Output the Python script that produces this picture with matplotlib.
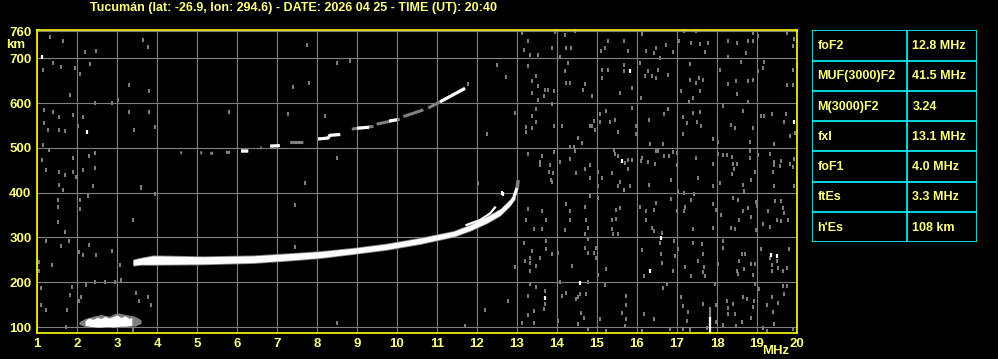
import numpy as np
import matplotlib
matplotlib.use("Agg")
import matplotlib.pyplot as plt

# ionogram header / parameters
title = "Tucumán (lat: -26.9, lon: 294.6) - DATE: 2026 04 25 - TIME (UT): 20:40"
param_names = ["foF2", "MUF(3000)F2", "M(3000)F2", "fxI", "foF1", "ftEs", "h'Es"]
param_values = ["12.8 MHz", "41.5 MHz", "3.24", "13.1 MHz", "4.0 MHz", "3.3 MHz", "108 km"]

freq_ticks = list(range(1, 21))
height_ticks = [100, 200, 300, 400, 500, 600, 700, 760]

# F-layer o-trace, lower / upper edge of echo (km)
fo_f = [3.4, 3.6, 3.9, 5.16, 6.41, 7.24, 8.08, 8.91, 9.74, 10.58, 11.41, 11.83, 12.24, 12.58, 12.83, 12.95]
fo_lo = [238, 240, 240, 241, 244, 249, 255, 264, 273.5, 286.5, 302.5, 316, 332.5, 350, 372, 387]
fo_hi = [250, 254, 259, 257, 259, 263.5, 268.5, 276, 285.5, 298.5, 313.5, 328, 346, 363, 385, 402]
cusp_f = [12.93, 13.0, 13.03]
cusp_h = [392, 410, 428]

# x-trace
fx_f = [11.74, 12.08, 12.33, 12.45]
fx_h = [328, 339, 354, 367]

# second hop (gaps as nan)
nan = np.nan
hop2_f = [4.58, 4.63, nan, 5.08, 5.13, nan, 5.33, 5.4, nan, 5.72, 5.83, nan, 6.1, 6.28, nan,
          6.58, 6.62, nan, 6.83, 7.07, nan, 7.33, 7.66, nan, 8.03, 8.28, 8.32, 8.58, nan,
          8.87, 9.41, nan, 9.49, 10.07, nan, 10.16, 10.66, nan, 10.78, 11.08, 11.7]
hop2_h = [489, 489, nan, 489, 489, nan, 488, 488, nan, 490, 490, nan, 493, 493, nan,
          500, 500, nan, 504, 505, nan, 512, 512, nan, 520, 522, 528, 530, nan,
          542, 548, nan, 553, 564, nan, 570, 585, nan, 589, 603, 633]
hop2w_f = [6.1, 6.28, nan, 6.83, 7.07, nan, 8.03, 8.28, 8.32, 8.58, nan, 9.0, 9.3, nan, 9.8, 10.0, nan, 11.08, 11.7]
hop2w_h = [493, 493, nan, 504, 505, nan, 520, 522, 528, 530, nan, 544, 546, nan, 560, 563, nan, 603, 633]

# sporadic E
es_f = [2.2, 2.3, 2.4, 2.5, 2.6, 2.7, 2.8, 2.9, 3.0, 3.1, 3.2, 3.3, 3.37]
es_lo = [104, 102, 101, 100, 100, 101, 101, 100, 101, 102, 102, 103, 104]
es_hi = [114, 120, 117, 122, 119, 124, 120, 123, 127, 121, 125, 119, 121]
esh_f = [2.05, 2.2, 2.4, 2.6, 2.8, 3.0, 3.2, 3.45, 3.6]
esh_lo = [106, 101, 100, 99, 100, 100, 101, 102, 108]
esh_hi = [112, 119, 124, 128, 124, 132, 128, 124, 116]

# interference spike near 17.8 MHz
spike_f = 17.83
spike_white = (87, 123)
spike_gray = (123, 145)

# background noise dots (MHz, km)
noise = [
    # 1-13 MHz
    (1.32, 748), (1.65, 739), (1.4, 689), (1.61, 681), (1.94, 678), (2.19, 715), (2.48, 716),
    (3.65, 741), (3.78, 726), (1.15, 674), (2.08, 665), (2.33, 687), (3.29, 641), (3.79, 628),
    (1.82, 617), (3.03, 607), (1.18, 585), (1.4, 581), (1.54, 570), (1.9, 574), (2.15, 570),
    (2.44, 600), (2.88, 600), (3.29, 581), (3.79, 580), (1.18, 555), (1.27, 540), (1.55, 539),
    (1.69, 537), (2.03, 548), (3.42, 541), (3.94, 547), (1.14, 507), (1.3, 495), (1.9, 477),
    (2.3, 481), (2.44, 488), (1.12, 474), (1.23, 451), (1.55, 447), (1.69, 440), (1.9, 447),
    (2.15, 451), (2.44, 455), (1.98, 436), (1.54, 418), (1.65, 407), (2.4, 414), (3.59, 411),
    (3.94, 398), (1.52, 383), (1.52, 368), (2.08, 384), (2.08, 364), (2.28, 392), (3.4, 339),
    (1.52, 334), (1.69, 313), (1.23, 291), (1.61, 280), (1.8, 291), (2.3, 284), (2.05, 268),
    (2.15, 261), (2.48, 261), (2.88, 270), (1.06, 246), (1.37, 239), (1.06, 224), (3.07, 239),
    (3.1, 205), (2.44, 201), (2.69, 200), (2.94, 200), (1.1, 187), (1.1, 150), (1.82, 172),
    (1.88, 190), (1.23, 139), (1.74, 139), (2.05, 157), (2.1, 168), (2.23, 194), (3.48, 175),
    (3.56, 157), (3.78, 168), (3.86, 150), (1.72, 99), (3.4, 94),
    (7.74, 730), (7.8, 645), (7.4, 636), (5.79, 581), (8.49, 689), (8.82, 695), (12.49, 685),
    (11.78, 642), (8.49, 108), (11.7, 103), (12.2, 138), (3.59, 413), (7.7, 422), (7.45, 372),
    (3.39, 340), (7.45, 279), (12.03, 422), (12.95, 235), (7.28, 575), (8.2, 571), (8.49, 478),
    (12.24, 532), (12.73, 659), (12.94, 577), (12.78, 157),
    # 13-16.5 MHz
    (13.13, 757), (13.28, 738), (13.17, 719), (13.33, 708), (13.53, 708), (13.88, 723), (13.94, 759),
    (14.19, 753), (14.44, 760), (14.23, 723), (14.36, 722), (14.07, 704), (15.11, 716), (15.19, 723),
    (15.28, 738), (15.67, 738), (15.78, 716), (16.13, 754), (16.23, 716), (16.42, 712), (16.48, 723),
    (13.28, 682), (13.48, 660), (13.38, 649), (13.53, 638), (13.69, 630), (13.77, 630), (13.38, 623),
    (13.67, 615), (13.53, 608), (13.93, 626), (14.19, 671), (14.28, 690), (14.32, 645), (14.23, 645),
    (14.65, 630), (14.69, 643), (14.88, 615), (15.13, 675), (15.28, 675), (15.13, 656), (15.68, 671),
    (15.67, 686), (15.88, 634), (15.58, 623), (16.11, 612), (16.08, 690), (16.19, 660), (16.28, 671),
    (16.38, 661), (16.47, 656), (16.53, 675),
    (13.88, 597), (13.48, 586), (13.38, 572), (13.48, 558), (13.23, 547), (13.38, 545), (13.23, 536),
    (13.93, 550), (14.13, 550), (14.53, 522), (14.63, 510), (14.92, 561), (14.88, 548), (14.94, 541),
    (14.83, 550), (15.07, 576), (15.22, 583), (15.08, 558), (15.33, 558), (15.44, 563), (15.53, 535),
    (15.88, 589), (15.98, 548), (15.97, 531), (16.3, 563), (16.33, 509),
    (13.28, 487), (13.63, 483), (13.58, 469), (13.57, 461), (13.82, 461), (13.8, 446), (13.9, 443),
    (13.86, 429), (13.88, 423), (13.93, 491), (14.08, 469), (14.33, 502), (14.42, 502), (14.44, 494),
    (14.33, 476), (14.48, 443), (14.69, 452), (14.83, 461), (14.83, 433), (15.03, 446), (15.13, 433),
    (15.03, 415), (15.38, 444), (15.43, 496), (15.44, 487), (15.53, 481), (15.69, 467), (15.78, 474),
    (15.88, 474), (15.78, 452), (15.58, 423), (15.68, 407), (15.53, 415), (15.83, 415), (16.13, 478),
    (16.28, 469), (16.44, 463), (16.48, 494), (16.3, 418), (16.11, 470),
    (13.28, 364), (13.63, 359), (13.73, 340), (13.23, 338), (13.42, 318), (13.63, 319), (14.22, 374),
    (14.33, 360), (14.32, 338), (14.19, 316), (14.69, 368), (14.73, 338), (14.78, 321), (14.69, 307),
    (14.83, 392), (15.03, 387), (15.48, 362), (15.38, 338), (15.48, 342), (15.38, 318), (15.4, 307),
    (15.53, 307), (15.58, 366), (16.08, 368), (16.23, 359), (16.42, 362), (16.23, 340), (16.38, 321),
    (16.42, 314), (16.48, 377),
    (13.17, 288), (13.38, 270), (13.33, 255), (13.2, 247), (13.32, 243), (13.58, 253), (13.48, 236),
    (13.33, 226), (13.73, 275), (13.88, 262), (13.73, 292), (14.03, 266), (14.38, 236), (14.78, 296),
    (14.69, 277), (14.78, 266), (14.98, 277), (14.97, 255), (14.92, 266), (15.03, 217), (15.22, 229),
    (16.13, 271), (16.18, 214),
    (13.33, 195), (13.48, 189), (13.69, 180), (13.69, 151), (13.68, 140), (13.28, 169), (13.42, 136),
    (13.28, 127), (13.13, 110), (13.42, 110), (14.07, 201), (14.22, 177), (14.13, 169), (14.53, 167),
    (14.58, 174), (14.47, 162), (14.61, 132), (14.67, 121), (14.03, 113), (14.53, 106), (14.78, 201),
    (14.73, 173), (15.19, 194), (15.08, 117), (15.73, 169), (15.72, 149), (15.63, 132), (15.73, 117),
    (15.69, 102), (16.18, 130), (16.13, 91), (16.42, 117), (15.22, 91), (14.78, 95),
    # 16.5-20 MHz
    (16.73, 729), (16.89, 714), (17.04, 738), (17.18, 760), (17.34, 734), (17.48, 760), (17.58, 732),
    (17.78, 734), (17.7, 714), (18.28, 739), (18.49, 735), (18.78, 739), (18.91, 757), (18.89, 738),
    (19.03, 749), (18.73, 712), (18.28, 702), (19.74, 757), (19.93, 744), (19.89, 727), (16.58, 701),
    (16.53, 675), (16.78, 662), (17.09, 628), (17.33, 652), (17.48, 645), (17.33, 687), (17.56, 656),
    (17.64, 652), (17.58, 626), (17.41, 612), (17.31, 603), (18.08, 675), (18.28, 643), (18.48, 649),
    (18.49, 620), (18.59, 692), (18.78, 649), (18.89, 652), (19.03, 671), (19.14, 678), (19.18, 692),
    (19.74, 640), (19.89, 675), (19.89, 640), (19.99, 686),
    (16.78, 586), (16.68, 576), (17.14, 568), (17.26, 556), (17.39, 578), (17.51, 558), (17.59, 548),
    (17.14, 531), (17.58, 580), (16.64, 509), (18.14, 593), (18.34, 552), (18.45, 545), (18.64, 583),
    (18.78, 603), (18.89, 545), (19.09, 571), (19.18, 571), (19.37, 576), (19.73, 576), (19.68, 558),
    (19.83, 526), (19.95, 533), (19.43, 509), (18.83, 513), (17.89, 519), (18.03, 513),
    (16.53, 493), (16.68, 481), (16.79, 481), (16.89, 491), (16.99, 489), (16.99, 461), (16.84, 429),
    (17.48, 478), (17.53, 433), (17.89, 464), (18.03, 487), (18.14, 485), (18.26, 485), (18.37, 479),
    (18.41, 464), (18.49, 463), (18.37, 442), (18.43, 452), (18.64, 418), (18.83, 493), (18.83, 478),
    (18.95, 446), (19.03, 484), (19.33, 487), (19.43, 469), (19.43, 461), (19.59, 470), (19.58, 459),
    (19.39, 446), (19.43, 415), (19.83, 464), (19.89, 457), (19.93, 476), (19.93, 415), (18.08, 422),
    (17.89, 415), (18.68, 403), (18.84, 429),
    (16.84, 385), (17.03, 403), (17.18, 400), (17.34, 383), (17.43, 396), (17.19, 368), (17.18, 360),
    (16.99, 360), (17.39, 318), (17.91, 375), (17.89, 321), (18.09, 350), (17.98, 362), (18.34, 320),
    (18.45, 319), (18.39, 388), (18.53, 383), (18.54, 340), (18.64, 360), (18.78, 366), (18.84, 346),
    (18.98, 379), (18.99, 370), (18.98, 316), (19.16, 329), (19.28, 359), (19.33, 323), (19.45, 381),
    (19.59, 381), (19.64, 366), (19.59, 336), (19.78, 340), (19.51, 340), (19.68, 355),
    (16.62, 310), (16.58, 288), (16.62, 243), (16.59, 262), (16.93, 292), (17.03, 275), (16.95, 258),
    (16.89, 226), (17.19, 234), (17.39, 288), (17.62, 286), (17.64, 262), (17.53, 247), (17.68, 234),
    (17.66, 223), (17.34, 214), (17.7, 214), (18.03, 240), (18.14, 292), (18.14, 277), (18.49, 226),
    (18.56, 247), (18.68, 229), (18.7, 262), (18.62, 262), (18.84, 240), (18.95, 240), (18.89, 217),
    (18.53, 219), (19.09, 275), (19.33, 255), (19.37, 238), (19.49, 247), (19.37, 226), (19.53, 231),
    (19.64, 225), (19.74, 232), (19.81, 275),
    (16.64, 188), (16.74, 195), (17.09, 167), (17.14, 147), (17.28, 134), (17.66, 152), (17.95, 197),
    (17.98, 149), (18.26, 157), (18.28, 143), (18.28, 130), (18.39, 151), (18.45, 128), (18.64, 167),
    (18.74, 162), (18.93, 158), (18.89, 145), (18.95, 195), (19.06, 186), (18.84, 121), (18.62, 112),
    (19.24, 149), (19.37, 167), (19.53, 154), (19.64, 191), (19.74, 191), (19.68, 173), (19.39, 134),
    (19.43, 107), (19.16, 98), (19.24, 91), (19.91, 95), (18.48, 102), (18.16, 104), (17.33, 93),
    (17.16, 95), (16.83, 95), (17.74, 98), (17.98, 112), (17.24, 113),
]
bright = [(15.82, 671), (15.63, 470), (13.03, 418), (16.33, 225), (14.58, 198), (13.69, 164),
          (19.93, 558), (16.59, 298), (19.34, 261), (19.49, 258), (12.63, 399), (1.13, 704),
          (2.24, 536), (12.64, 397)]

yellow = '#ffff00'
txt = '#ffff80'
grey = '#808080'
bold = dict(family='Liberation Sans', weight='bold', color=txt)

fig = plt.figure(figsize=(9.98, 3.59), dpi=100)
fig.patch.set_facecolor('black')
ax = fig.add_axes([37/998, 26.3/359, 760/998, 302.4/359])
ax.set_facecolor('black')

ax.set_xlim(1, 20)
ax.set_ylim(87.3, 762.6)
ax.set_xticks(freq_ticks)
ax.set_yticks(height_ticks)
ax.set_xticklabels([str(f) for f in freq_ticks], fontsize=9.5, **bold)
ax.set_yticklabels([str(h) for h in height_ticks], fontsize=9.5, **bold)
ax.tick_params(length=0, pad=4)
ax.grid(True, color=grey, lw=0.8)
ax.set_axisbelow(True)
for s in ax.spines.values():
    s.set_color(yellow)
    s.set_linewidth(1.2)

nf, nh = zip(*noise)
ax.plot(nf, nh, ls='none', marker='|', ms=3.0, mew=1.4, color=grey)
bf, bh = zip(*bright)
ax.plot(bf, bh, ls='none', marker='|', ms=3.2, mew=1.6, color='white')

ax.fill_between(esh_f, esh_lo, esh_hi, color=grey, lw=0)
ax.fill_between(es_f, es_lo, es_hi, color='white', lw=0)

ax.fill_between(fo_f, np.array(fo_lo) - 2, np.array(fo_hi) + 2, color=grey, lw=0)
ax.fill_between(fo_f, fo_lo, fo_hi, color='white', lw=0)
ax.plot(cusp_f, cusp_h, color=grey, lw=2.5, solid_capstyle='butt')
ax.plot(cusp_f[:2], cusp_h[:2], color='white', lw=2.2, solid_capstyle='butt')
ax.plot(fx_f, fx_h, color='white', lw=1.6)

ax.plot(hop2_f, hop2_h, color=grey, lw=2.2, solid_capstyle='butt')
ax.plot(hop2w_f, hop2w_h, color='white', lw=2.2, solid_capstyle='butt')

ax.vlines(spike_f, *spike_gray, color=grey, lw=1.6)
ax.vlines(spike_f, *spike_white, color='white', lw=1.6)

fig.text(90/998, 1 - 8/359, title, ha='left', va='center', fontsize=9.0, **bold)
fig.text(6/998, 1 - 45/359, 'km', ha='left', va='center', fontsize=9.5, **bold)
fig.text(789/998, 1 - 351/359, 'MHz', ha='right', va='center', fontsize=9.5, **bold)

# parameter table
tab = fig.add_axes([812.3/998, (359 - 242.3)/359, 165/998, 212/359])
tab.set_xlim(0, 1)
tab.set_ylim(len(param_names), 0)
tab.axis('off')
cyan = '#00ffff'
for i in range(len(param_names) + 1):
    tab.axhline(i, color=cyan, lw=1.2)
tab.axvline(0, color=cyan, lw=1.2)
tab.axvline(1, color=cyan, lw=1.2)
tab.axvline(0.576, color=cyan, lw=1.2)
for i, (n, v) in enumerate(zip(param_names, param_values)):
    tab.text(0.03, i + 0.52, n, ha='left', va='center', fontsize=9, **bold)
    tab.text(0.606, i + 0.52, v, ha='left', va='center', fontsize=9, **bold)

fig.savefig('out.png', dpi=100, facecolor='black')
